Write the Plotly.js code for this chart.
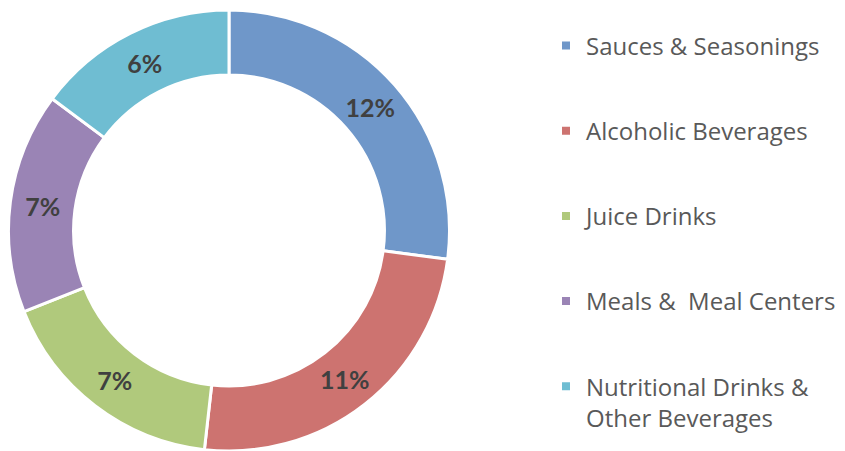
<!DOCTYPE html>
<html>
<head>
<meta charset="utf-8">
<script src="https://cdn.plot.ly/plotly-3.0.1.min.js"></script>
<style>html,body{margin:0;padding:0;background:#fff}#chart{width:845px;height:451px}</style>
</head>
<body>
<div id="chart"></div>
<script>
const categories = ["Sauces & Seasonings", "Alcoholic Beverages", "Juice Drinks", "Meals &\u00a0 Meal Centers", "Nutritional Drinks &<br>Other Beverages"];
// slice sizes; labels show them rounded
const values = [11.65, 10.62, 7.41, 6.96, 6.37];
const colors = ["#6F97C9", "#CD7370", "#B0C97C", "#9A84B5", "#6FBDD2"];

const pie = {
  type: "pie",
  labels: categories,
  values: values,
  sort: false,
  direction: "clockwise",
  rotation: 0,
  hole: 0.705,
  domain: {x: [8/845, 450/845], y: [0, 1]},
  marker: {colors: colors, line: {color: "#ffffff", width: 3}},
  texttemplate: "%{value:.0f}%",
  textposition: "inside",
  insidetextorientation: "horizontal",
  textfont: {family: "Lato", size: 25, color: "#404040", weight: "bold"},
  hoverinfo: "label+value",
  showlegend: false
};

const legendTraces = categories.map((c, i) => ({
  type: "scatter",
  mode: "markers",
  x: [null], y: [null],
  name: c,
  legendgroup: "g" + i,
  marker: {symbol: "square", size: 8, color: colors[i]},
  hoverinfo: "skip"
}));

const layout = {
  width: 845, height: 451,
  margin: {l: 0, r: 0, t: 10, b: 0, autoexpand: false},
  paper_bgcolor: "#ffffff",
  plot_bgcolor: "#ffffff",
  xaxis: {visible: false},
  yaxis: {visible: false},
  showlegend: true,
  legend: {
    x: 546/845, xanchor: "left",
    y: 1 - 13.4/441, yanchor: "top",
    valign: "top",
    tracegroupgap: 51,
    font: {family: "Open Sans", size: 24, color: "#595959"},
    bgcolor: "rgba(0,0,0,0)",
    itemclick: false, itemdoubleclick: false
  }
};

Plotly.newPlot("chart", [pie].concat(legendTraces), layout, {displayModeBar: false, staticPlot: true});
</script>
</body>
</html>
